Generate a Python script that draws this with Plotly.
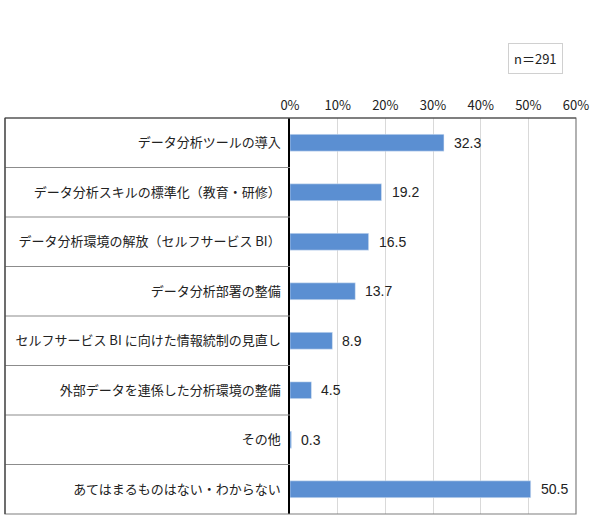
import plotly.graph_objects as go

# Categories (top to bottom) and percentages
categories = [
    'データ分析ツールの導入',
    'データ分析スキルの標準化（教育・研修）',
    'データ分析環境の解放（セルフサービス BI）',
    'データ分析部署の整備',
    'セルフサービス BI に向けた情報統制の見直し',
    '外部データを連係した分析環境の整備',
    'その他',
    'あてはまるものはない・わからない',
]
values = [32.3, 19.2, 16.5, 13.7, 8.9, 4.5, 0.3, 50.5]
tick_vals = [0, 10, 20, 30, 40, 50, 60]
tick_text = ['0%', '10%', '20%', '30%', '40%', '50%', '60%']
n_label = 'n＝291'

jp_font = 'Noto Sans CJK JP, sans-serif'
num_font = 'Liberation Sans, Arial, sans-serif'

fig = go.Figure()

fig.add_trace(go.Bar(
    y=categories,
    x=values,
    orientation='h',
    marker_color='#5B8FD2',
    width=0.34,
    cliponaxis=False,
    hoverinfo='skip',
))

# Value labels to the right of each bar
for cat, v in zip(categories, values):
    fig.add_annotation(
        x=v, y=cat, xref='x', yref='y',
        text=f'{v:.1f}', showarrow=False,
        xanchor='left', xshift=8,
        font=dict(family=num_font, size=14, color='#222222'),
    )

# Label-box frame on the left: left edge in paper coords
left_edge = -285 / 286

# Row separator lines in the label column
for i in range(len(categories) - 1):
    fig.add_shape(
        type='line', xref='paper', yref='y',
        x0=left_edge, x1=0, y0=i + 0.5, y1=i + 0.5,
        line=dict(color='#8C8C8C', width=1.2),
    )

# Outer frame
fig.add_shape(
    type='rect', xref='paper', yref='paper',
    x0=left_edge, x1=1, y0=0, y1=1,
    line=dict(color='#7F7F7F', width=1.2),
)
# Top and left darker edges
fig.add_shape(type='line', xref='paper', yref='paper',
              x0=left_edge, x1=1, y0=1, y1=1,
              line=dict(color='#404040', width=1.2))
fig.add_shape(type='line', xref='paper', yref='paper',
              x0=left_edge, x1=left_edge, y0=0, y1=1,
              line=dict(color='#404040', width=1.2))

# n label box
fig.add_annotation(
    x=0.86, y=1.149, xref='paper', yref='paper',
    xanchor='center', yanchor='middle',
    text=n_label, showarrow=False,
    font=dict(family=jp_font, size=13, color='#222222'),
    bordercolor='#D0D0D0', borderwidth=1, borderpad=5,
    bgcolor='white',
)

fig.update_layout(
    width=590, height=531,
    margin=dict(l=290, r=14, t=118, b=17),
    paper_bgcolor='white',
    plot_bgcolor='white',
    showlegend=False,
    xaxis=dict(
        side='top',
        range=[0, 60],
        tickvals=tick_vals,
        ticktext=tick_text,
        showgrid=True,
        gridcolor='#D9D9D9',
        gridwidth=1,
        zeroline=False,
        showline=False,
        ticks='',
        ticklabelstandoff=4,
        automargin=False,
        tickfont=dict(family=jp_font, size=13, color='#222222'),
    ),
    yaxis=dict(
        autorange='reversed',
        showgrid=False,
        zeroline=False,
        showline=True,
        linecolor='#000000',
        linewidth=1.5,
        ticks='',
        ticklabelstandoff=5,
        automargin=False,
        tickfont=dict(family=jp_font, size=13, color='#222222'),
    ),
)

fig.write_html(
    'out.html',
    config={'displayModeBar': False, 'responsive': False},
    post_script="document.body.style.margin='0';document.body.style.overflow='hidden';",
)
